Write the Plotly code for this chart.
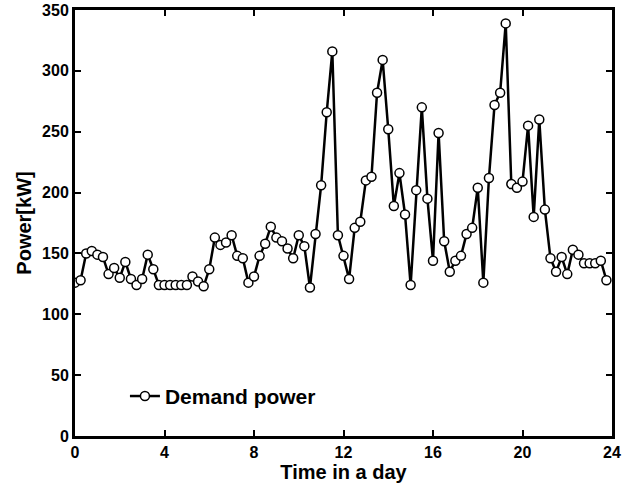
import plotly.graph_objects as go

# Time in hours (15-minute steps) and demand power values [kW]
time_h = [i * 0.25 for i in range(96)]
demand_power = [
    126, 128, 150, 152, 149, 147, 133, 138, 130, 143, 129, 124, 129, 149, 137, 124,
    124, 124, 124, 124, 124, 131, 127, 123, 137, 163, 157, 159, 165, 148, 146, 126,
    131, 148, 158, 172, 163, 160, 154, 146, 165, 156, 122, 166, 206, 266, 316, 165,
    148, 129, 171, 176, 210, 213, 282, 309, 252, 189, 216, 182, 124, 202, 270, 195,
    144, 249, 160, 135, 144, 148, 166, 171, 204, 126, 212, 272, 282, 339, 207, 204,
    209, 255, 180, 260, 186, 146, 135, 147, 133, 153, 149, 142, 142, 142, 144, 128,
]
x_ticks = [0, 4, 8, 12, 16, 20, 24]
y_ticks = [0, 50, 100, 150, 200, 250, 300, 350]

FONT = "Arial, Liberation Sans, sans-serif"

fig = go.Figure()
fig.add_trace(go.Scatter(
    x=time_h, y=demand_power, mode="lines+markers", name="Demand power",
    line=dict(color="black", width=2.5),
    marker=dict(symbol="circle", size=9, color="white",
                line=dict(color="black", width=1.5)),
))

axis_common = dict(
    showline=True, linecolor="black", linewidth=3, mirror="ticks",
    ticks="inside", ticklen=6, tickwidth=2, tickcolor="black",
    showgrid=False, zeroline=False, automargin=False,
    ticklabeloverflow="allow",
    tickfont=dict(family=FONT, size=16, color="black", weight="bold"),
)

fig.update_xaxes(range=[0, 24], tickvals=x_ticks,
                 title=dict(text="Time in a day", standoff=1,
                            font=dict(family=FONT, size=20, color="black", weight="bold")),
                 **axis_common)
fig.update_yaxes(range=[0, 350], tickvals=y_ticks,
                 title=dict(text="Power[kW]", standoff=6,
                            font=dict(family=FONT, size=20, color="black", weight="bold")),
                 **axis_common)

fig.update_layout(
    width=624, height=489,
    margin=dict(l=75, r=12, t=10, b=53),
    plot_bgcolor="white", paper_bgcolor="white",
    showlegend=True,
    legend=dict(x=0.093, y=0.093, xanchor="left", yanchor="middle",
                bgcolor="rgba(0,0,0,0)",
                font=dict(family=FONT, size=21, color="black", weight="bold")),
)

fig.write_html("out.html")
